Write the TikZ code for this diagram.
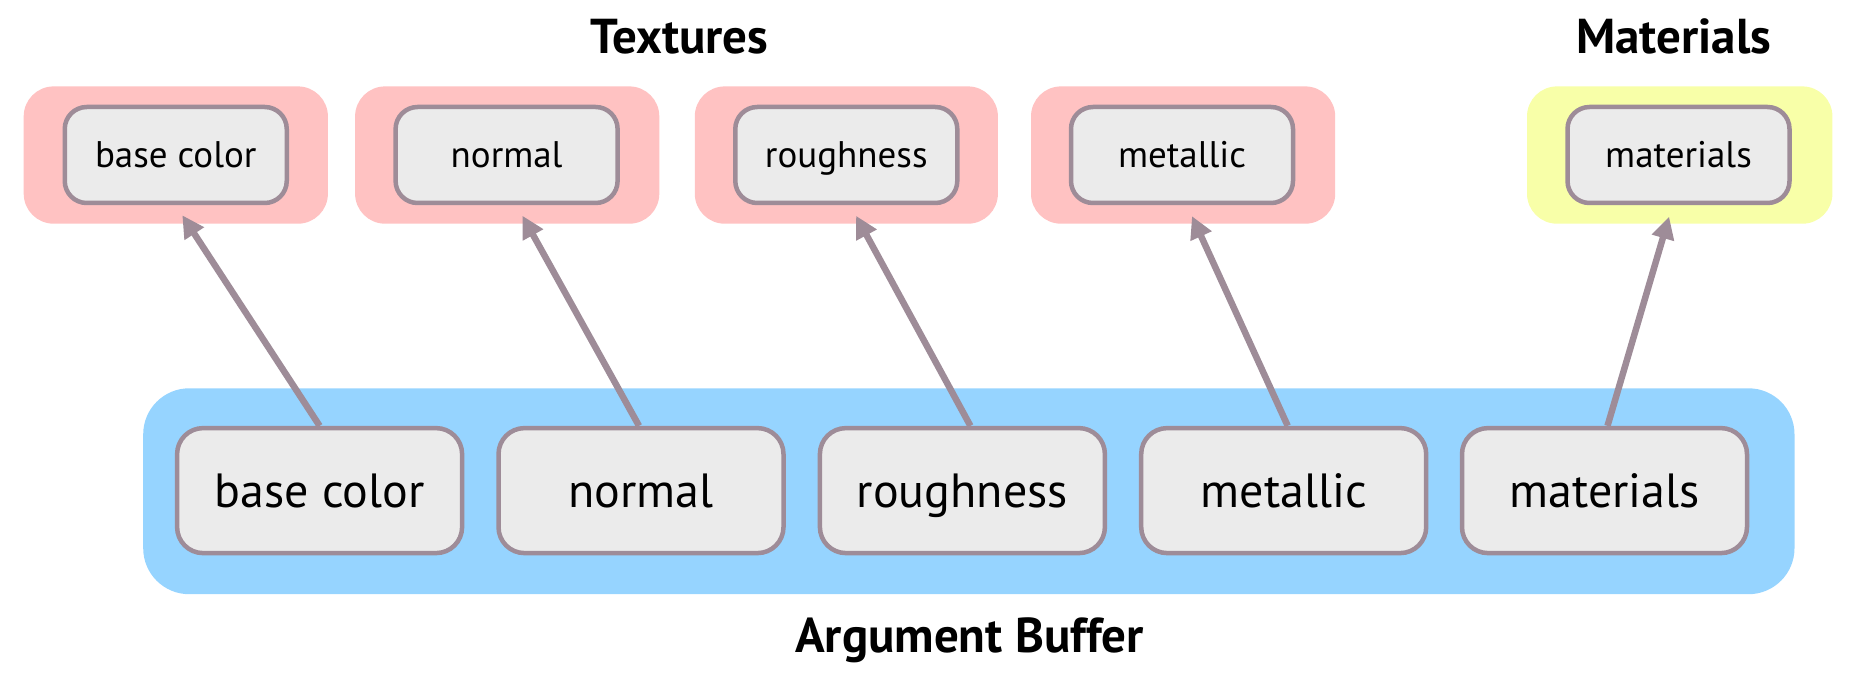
\documentclass[tikz,border=0pt]{standalone}
\usepackage{fontspec}
\setmainfont{PT Sans}
\usetikzlibrary{arrows.meta}

\definecolor{texpink}{HTML}{FFC2C2}
\definecolor{matyellow}{HTML}{F8FFA8}
\definecolor{bufblue}{HTML}{96D4FF}
\definecolor{slotgray}{HTML}{EBEBEB}
\definecolor{edgegray}{HTML}{9E8C98}

\tikzset{
  group/.style={rounded corners=30pt},
  slot/.style={draw=edgegray, line width=4.5pt, fill=slotgray, rounded corners=22pt,
    minimum width=222pt, minimum height=96pt, text height=27pt, text depth=1pt,
    font=\fontsize{37}{44}\selectfont},
  bigslot/.style={slot, rounded corners=26pt, minimum width=285pt, minimum height=125pt,
    text height=35pt, text depth=1pt, font=\fontsize{48}{56}\selectfont},
  title/.style={font=\bfseries\fontsize{49}{58}\selectfont},
  link/.style={draw=edgegray, line width=6.5pt, -{Triangle[length=22pt,width=22pt]}, shorten >=12pt}
}

\begin{document}
\begin{tikzpicture}[x=1pt,y=-1pt]
\useasboundingbox (0,0) rectangle (1856,676);

% groups
\fill[texpink, group] (23.7,86.4) rectangle (327.9,223.7);
\fill[texpink, group] (355.1,86.4) rectangle (659.3,223.7);
\fill[texpink, group] (694.8,86.4) rectangle (997.9,223.7);
\fill[texpink, group] (1031,86.4) rectangle (1335.2,223.7);
\fill[matyellow, group] (1527,86.4) rectangle (1832.4,223.7);
\fill[bufblue, rounded corners=46pt] (143.2,388.3) rectangle (1794.5,594.2);

\node[title] (textures) at (679.5,36.7) {Textures};
\node[title] (materials) at (1673.7,36.7) {Materials};
\node[title] (argbuf) at (969.5,640.5) {Argument Buffer};

% texture and material slots
\node[slot] (t1) at (175.75,155) {base color};
\node[slot] (t2) at (506.6,155) {normal};
\node[slot] (t3) at (846.3,155) {roughness};
\node[slot] (t4) at (1182,155) {metallic};
\node[slot] (m1) at (1678.5,155) {materials};

% argument buffer entries
\node[bigslot] (a1) at (319.6,490.6) {base color};
\node[bigslot] (a2) at (641,490.6) {normal};
\node[bigslot] (a3) at (962.4,490.6) {roughness};
\node[bigslot] (a4) at (1283.7,490.6) {metallic};
\node[bigslot] (a5) at (1604.5,490.6) {materials};

\draw[link] (a1.north) -- (t1.south);
\draw[link] ([xshift=-2pt]a2.north) -- ([xshift=10pt]t2.south);
\draw[link] ([xshift=8pt]a3.north) -- ([xshift=4pt]t3.south);
\draw[link] ([xshift=4pt]a4.north) -- ([xshift=5pt]t4.south);
\draw[link] ([xshift=3pt]a5.north) -- ([xshift=-6pt]m1.south);

\end{tikzpicture}
\end{document}
